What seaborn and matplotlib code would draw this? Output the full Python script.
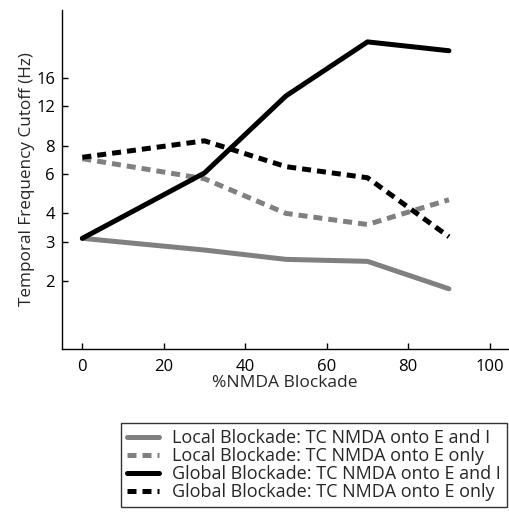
import numpy as np
import pandas as pd
import matplotlib
matplotlib.use("Agg")
import matplotlib.pyplot as plt
import seaborn as sns
from matplotlib.ticker import FixedLocator, NullLocator, FixedFormatter

blockade = [0, 30, 50, 70, 90]
local_ei = [3.1, 2.75, 2.5, 2.45, 1.85]
local_e = [7.0, 5.7, 4.0, 3.57, 4.6]
global_ei = [3.1, 6.05, 13.3, 23.1, 21.1]
global_e = [7.1, 8.4, 6.45, 5.76, 3.15]
labels = ["Local Blockade: TC NMDA onto E and I",
          "Local Blockade: TC NMDA onto E only",
          "Global Blockade: TC NMDA onto E and I",
          "Global Blockade: TC NMDA onto E only"]
yticks = [2, 3, 4, 6, 8, 12, 16]
xticks = [0, 20, 40, 60, 80, 100]

sns.set_style("ticks")
plt.rcParams['font.family'] = ['Open Sans', 'DejaVu Sans']

df = pd.DataFrame({
    "x": blockade * 4,
    "y": local_ei + local_e + global_ei + global_e,
    "series": sum([[l] * len(blockade) for l in labels], []),
})

fig = plt.figure(figsize=(5.09, 5.14), dpi=100)
ax = fig.add_axes([62/509, 1-349/514, (508-62)/509, (349-10)/514])

colors = ["#808080", "#808080", "black", "black"]
styles = ["-", (0, (1.8, 1.2)), "-", (0, (1.8, 1.2))]
for lab, c, s in zip(labels, colors, styles):
    sns.lineplot(data=df[df.series == lab], x="x", y="y", ax=ax, color=c,
                 linewidth=3.6, linestyle=s, label=lab, legend=False)

ax.set_yscale("log")
ax.set_ylim(1, 32)
ax.set_xlim(-5, 104.5)
ax.yaxis.set_major_locator(FixedLocator(yticks))
ax.yaxis.set_major_formatter(FixedFormatter([str(t) for t in yticks]))
ax.yaxis.set_minor_locator(NullLocator())
ax.set_xticks(xticks)
ax.tick_params(direction="in", length=4, width=1, labelsize=12, colors="black")
ax.tick_params(axis="x", pad=7)
ax.tick_params(axis="y", pad=5)
ax.set_xlabel("%NMDA Blockade", fontsize=12.5, labelpad=0)
ax.set_ylabel("Temporal Frequency Cutoff (Hz)", fontsize=12.3, labelpad=1)
for sp in ["top", "right"]:
    ax.spines[sp].set_visible(False)
for sp in ["left", "bottom"]:
    ax.spines[sp].set_color("black")
    ax.spines[sp].set_linewidth(1)

handles, labs = ax.get_legend_handles_labels()
leg = fig.legend(handles, labs, loc="upper right", bbox_to_anchor=(509/509, 1-421/514),
                 fontsize=13, frameon=True, fancybox=False, edgecolor="black",
                 handlelength=1.8, handletextpad=0.7, borderpad=0.35, labelspacing=0.0,
                 borderaxespad=0.1)
leg.get_frame().set_linewidth(1)

fig.savefig("out.png", dpi=100)
